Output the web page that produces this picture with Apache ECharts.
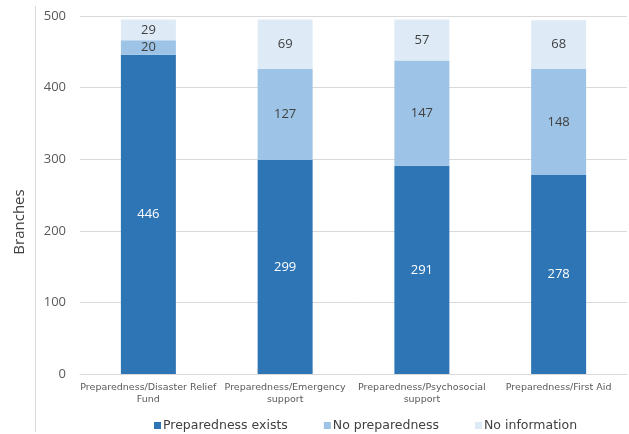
<!DOCTYPE html>
<html><head><meta charset="utf-8">
<script src="https://cdn.jsdelivr.net/npm/echarts@6/dist/echarts.min.js"></script>
<style>html,body{margin:0;padding:0;background:#fff}#c{width:629px;height:434px;position:relative}
#bl{position:absolute;left:35px;top:6px;width:1px;height:426px;background:#d9d9d9}</style>
</head><body><div id="c"></div><div id="bl" style="position:absolute"></div>
<script>
const categories = ["Preparedness/Disaster Relief Fund","Preparedness/Emergency support","Preparedness/Psychosocial support","Preparedness/First Aid"];
const seriesNames = ["Preparedness exists","No preparedness","No information"];
const exists = [446, 299, 291, 278];
const noPrep = [20, 127, 147, 148];
const noInfo = [29, 69, 57, 68];
const yTicks = [0, 100, 200, 300, 400, 500];

const colors = ['#2E75B6', '#9DC3E6', '#DEEBF7'];
const labelColors = ['#ffffff', '#404040', '#404040'];
const chart = echarts.init(document.getElementById('c'));
const datasets = [exists, noPrep, noInfo];
chart.setOption({
  animation: false,
  grid: {left: 80, right: 2, top: 16, bottom: 60, containLabel: false},
  legend: {
    top: 414, left: 149, itemWidth: 7, itemHeight: 7, itemGap: 36, icon: 'rect',
    textStyle: {fontFamily: 'DejaVu Sans', fontSize: 12.5, color: '#404040', padding: [0,0,0,-3]},
    data: seriesNames
  },
  xAxis: {
    type: 'category', data: categories,
    axisLine: {lineStyle: {color: '#d9d9d9'}}, axisTick: {show: false},
    axisLabel: {fontFamily: 'DejaVu Sans', fontSize: 9.5, color: '#595959', interval: 0, lineHeight: 12, margin: 8,
      formatter: v => v.replace(' Fund', '\nFund').replace(' support', '\nsupport')}
  },
  yAxis: {
    type: 'value', min: yTicks[0], max: yTicks[yTicks.length-1], interval: 100,
    name: 'Branches', nameLocation: 'middle', nameGap: 53, nameRotate: 90,
    nameTextStyle: {fontFamily: 'Open Sans', fontSize: 15, color: '#404040', padding: [0, 54, 0, 0]},
    axisLabel: {fontFamily: 'Open Sans', fontSize: 13, color: '#595959', margin: 14},
    splitLine: {lineStyle: {color: '#d9d9d9'}},
    axisLine: {show: false}, axisTick: {show: false}
  },
  series: seriesNames.map((n, i) => ({
    name: n, type: 'bar', stack: 'a', data: datasets[i], barWidth: 55,
    itemStyle: {color: colors[i]},
    label: {show: true, position: 'inside', color: labelColors[i], fontFamily: 'Open Sans', fontSize: 13}
  }))
});
</script></body></html>
